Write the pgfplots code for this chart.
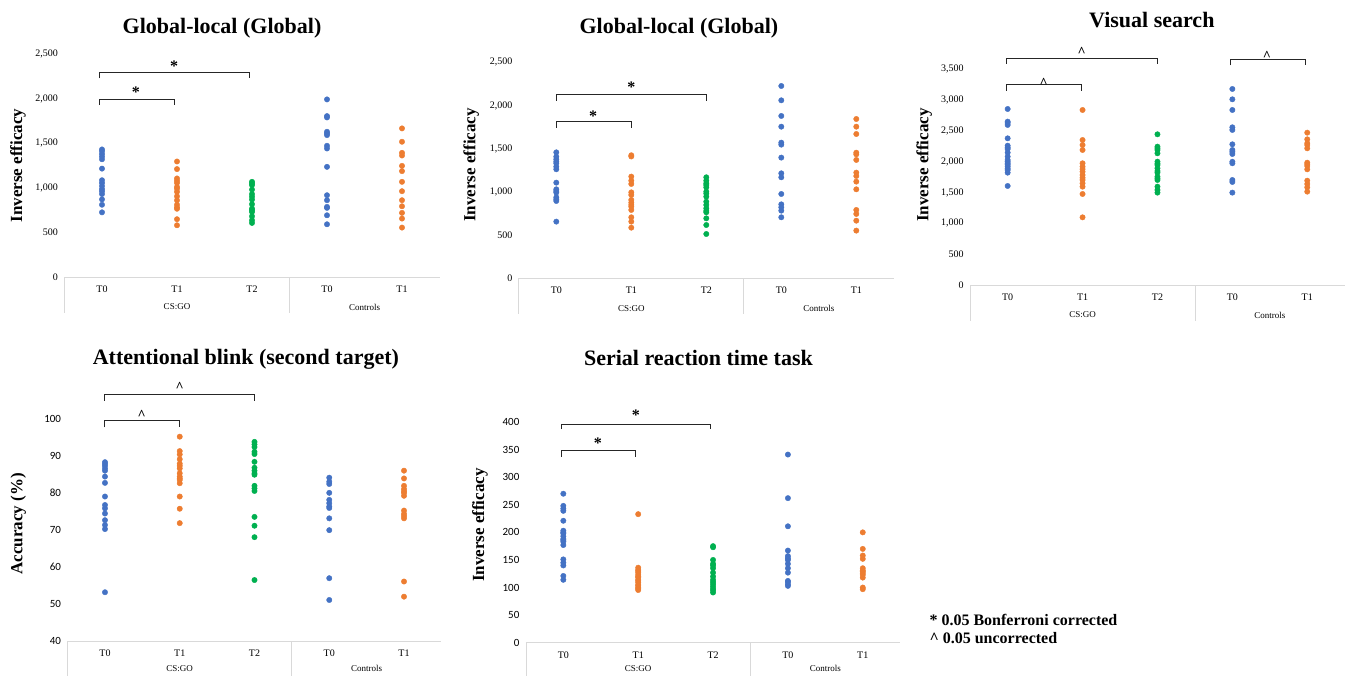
\documentclass[border=0pt]{standalone}
\usepackage{fontspec}
\setmainfont{Liberation Serif}
\newfontfamily\carlito{Carlito}
\usepackage{pgfplots}
\pgfplotsset{compat=1.18}

\definecolor{xblue}{HTML}{4472C4}
\definecolor{xorange}{HTML}{ED7D31}
\definecolor{xgreen}{HTML}{00B050}
\definecolor{axgray}{HTML}{D9D9D9}

\pgfplotsset{
  every axis title shift=0pt,
  panel/.style={
    scale only axis, clip=false,
    xmin=-0.5, xmax=4.5,
    xtick={0,1,2,3,4}, xticklabels={T0,T1,T2,T0,T1},
    axis x line*=bottom, axis y line*=left,
    x axis line style={draw=axgray, line width=0.8pt},
    y axis line style={draw=none},
    major tick length=0pt,
    tick label style={font=\fontsize{10}{12}\selectfont},
    xticklabel style={yshift=-5.5pt},
    yticklabel style={xshift=-3pt},
    /pgf/number format/assume math mode=true,
    /pgf/number format/1000 sep={,},
    title style={font=\bfseries\fontsize{22}{26}\selectfont, anchor=center, yshift=-1pt},
    ylabel style={font=\bfseries\fontsize{17}{20}\selectfont, anchor=center},
  },
  dots/.style={only marks, mark=*, mark size=2.7pt, color=#1, mark options={draw=#1, fill=#1}},
  brk/.style={black!85, line width=1pt, no marks, mark=none},
}
\tikzset{
  sig/.style={font=\bfseries\fontsize{16}{18}\selectfont, anchor=base, yshift=-8pt, inner sep=0pt},
  car/.style={font=\bfseries\fontsize{14}{16}\selectfont, anchor=base, yshift=-7.5pt, inner sep=0pt},
}

% group boxes under the category axis; #1 = drop of the group labels
\newcommand{\groups}[1]{%
  \draw[axgray, line width=0.8pt] (rel axis cs:0,0) -- ++(0pt,-36pt);
  \draw[axgray, line width=0.8pt] (rel axis cs:0.6,0) -- ++(0pt,-36pt);
  \node[font=\fontsize{9}{11}\selectfont] at ([yshift=-#1]rel axis cs:0.3,0) {CS:GO};
  \node[font=\fontsize{9}{11}\selectfont] at ([yshift=-#1]rel axis cs:0.8,0) {Controls};
}

\begin{document}
\begin{tikzpicture}
\useasboundingbox (0,0) rectangle (1346pt,-675pt);

% ---- Global-local (Global), left
\begin{axis}[panel, at={(64.5pt,-277pt)}, anchor=south west,
  width=375pt, height=223pt, ymin=0, ymax=2500, ytick={0,500,...,2500},
  title={Global-local (Global)}, title style={at={(axis description cs:0.42,1.121)}},
  ylabel={Inverse efficacy}, ylabel style={at={(axis description cs:-0.124,0.5)}}]
\addplot[dots=xblue] coordinates {(0,1430) (0,1410) (0,1380) (0,1350) (0,1320) (0,1215) (0,1085) (0,1055) (0,1020) (0,985) (0,960) (0,930) (0,870) (0,810) (0,725)};
\addplot[dots=xorange] coordinates {(1,1295) (1,1210) (1,1105) (1,1080) (1,1055) (1,1010) (1,990) (1,955) (1,905) (1,860) (1,810) (1,780) (1,765) (1,648) (1,580)};
\addplot[dots=xgreen] coordinates {(2,1067) (2,1050) (2,1030) (2,980) (2,930) (2,900) (2,868) (2,816) (2,767) (2,750) (2,730) (2,681) (2,636) (2,606)};
\addplot[dots=xblue] coordinates {(3,1991) (3,1804) (3,1789) (3,1628) (3,1610) (3,1591) (3,1471) (3,1441) (3,1235) (3,917) (3,861) (3,786) (3,775) (3,692) (3,591)};
\addplot[dots=xorange] coordinates {(4,1666) (4,1516) (4,1392) (4,1362) (4,1246) (4,1187) (4,1067) (4,962) (4,861) (4,793) (4,719) (4,655) (4,554)};
\addplot[brk] coordinates {(-0.04,1928) (-0.04,1995) (0.96,1995) (0.96,1928)};
\addplot[brk] coordinates {(-0.04,2227) (-0.04,2298) (1.96,2298) (1.96,2227)};
\node[sig] at (axis cs:0.45,2100) {*};
\node[sig] at (axis cs:0.96,2395) {*};
\groups{30pt}
\end{axis}

% ---- Global-local (Global), middle
\begin{axis}[panel, at={(518.8pt,-278.3pt)}, anchor=south west,
  width=375pt, height=216pt, ymin=0, ymax=2500, ytick={0,500,...,2500},
  title={Global-local (Global)}, title style={at={(axis description cs:0.427,1.163)}},
  ylabel={Inverse efficacy}, ylabel style={at={(axis description cs:-0.127,0.525)}}]
\addplot[dots=xblue] coordinates {(0,1458) (0,1408) (0,1377) (0,1350) (0,1331) (0,1292) (0,1262) (0,1107) (0,1030) (0,1010) (0,992) (0,937) (0,915) (0,895) (0,656)};
\addplot[dots=xorange] coordinates {(1,1424) (1,1410) (1,1177) (1,1130) (1,1092) (1,995) (1,965) (1,907) (1,876) (1,850) (1,829) (1,791) (1,706) (1,656) (1,586)};
\addplot[dots=xgreen] coordinates {(2,1169) (2,1130) (2,1100) (2,1080) (2,1053) (2,1003) (2,980) (2,945) (2,887) (2,849) (2,810) (2,780) (2,764) (2,694) (2,617) (2,513)};
\addplot[dots=xblue] coordinates {(3,2226) (3,2060) (3,1879) (3,1755) (3,1570) (3,1547) (3,1397) (3,1215) (3,1169) (3,976) (3,856) (3,822) (3,783) (3,706)};
\addplot[dots=xorange] coordinates {(4,1844) (4,1755) (4,1670) (4,1454) (4,1435) (4,1370) (4,1223) (4,1184) (4,1119) (4,1030) (4,791) (4,745) (4,667) (4,552)};
\addplot[brk] coordinates {(0,1744) (0,1813) (1,1813) (1,1744)};
\addplot[brk] coordinates {(0,2056) (0,2122) (2,2122) (2,2056)};
\node[sig] at (axis cs:0.49,1910) {*};
\node[sig] at (axis cs:1,2238) {*};
\groups{30pt}
\end{axis}

% ---- Visual search
\begin{axis}[panel, at={(970.2pt,-285pt)}, anchor=south west,
  width=374.5pt, height=215.7pt, ymin=0, ymax=3500, ytick={0,500,...,3500},
  title={Visual search}, title style={at={(axis description cs:0.485,1.233)}},
  ylabel={Inverse efficacy}, ylabel style={at={(axis description cs:-0.123,0.556)}}]
\addplot[dots=xblue] coordinates {(0,2856) (0,2651) (0,2630) (0,2597) (0,2380) (0,2261) (0,2230) (0,2207) (0,2148) (0,2083) (0,2029) (0,2000) (0,1975) (0,1950) (0,1921) (0,1890) (0,1866) (0,1823) (0,1607)};
\addplot[dots=xorange] coordinates {(1,2840) (1,2353) (1,2272) (1,2191) (1,1975) (1,1921) (1,1880) (1,1839) (1,1785) (1,1740) (1,1704) (1,1650) (1,1596) (1,1477) (1,1098)};
\addplot[dots=xgreen] coordinates {(2,2445) (2,2245) (2,2220) (2,2191) (2,2137) (2,2002) (2,1970) (2,1948) (2,1894) (2,1850) (2,1823) (2,1758) (2,1730) (2,1704) (2,1596) (2,1542) (2,1499)};
\addplot[dots=xblue] coordinates {(3,3181) (3,3013) (3,2840) (3,2559) (3,2516) (3,2283) (3,2191) (3,2160) (3,2126) (3,2000) (3,1975) (3,1704) (3,1672) (3,1499)};
\addplot[dots=xorange] coordinates {(4,2472) (4,2364) (4,2300) (4,2272) (4,2218) (4,1985) (4,1960) (4,1931) (4,1877) (4,1693) (4,1639) (4,1585) (4,1515)};
\addplot[brk] coordinates {(-0.01,3154) (-0.01,3246) (0.99,3246) (0.99,3154)};
\addplot[brk] coordinates {(-0.01,3587) (-0.01,3679) (2,3679) (2,3587)};
\addplot[brk] coordinates {(2.97,3565) (2.97,3663) (3.97,3663) (3.97,3565)};
\node[car] at (axis cs:0.48,3330) {\^{}};
\node[car] at (axis cs:0.99,3830) {\^{}};
\node[car] at (axis cs:3.46,3771) {\^{}};
\groups{30pt}
\end{axis}

% ---- Attentional blink (second target)
\begin{axis}[panel, at={(67.6pt,-641pt)}, anchor=south west,
  width=373.8pt, height=221.7pt, ymin=40, ymax=100, ytick={40,50,...,100},
  yticklabel style={font=\carlito\fontsize{11}{13}\selectfont},
  title={Attentional blink (second target)}, title style={at={(axis description cs:0.477,1.275)}},
  ylabel={Accuracy (\%)}, ylabel style={at={(axis description cs:-0.132,0.528)}}]
\addplot[dots=xblue] coordinates {(0,88.4) (0,87.9) (0,87.4) (0,86.7) (0,86.1) (0,84.5) (0,82.8) (0,79.1) (0,76.8) (0,75.9) (0,74.5) (0,72.7) (0,71.4) (0,70.3) (0,53.2)};
\addplot[dots=xorange] coordinates {(1,95.3) (1,91.4) (1,90.5) (1,89.2) (1,88.0) (1,87.4) (1,86.7) (1,85.4) (1,84.5) (1,84.0) (1,83.6) (1,82.7) (1,79.1) (1,75.8) (1,71.9)};
\addplot[dots=xgreen] coordinates {(2,93.9) (2,93.2) (2,92.5) (2,91.2) (2,90.6) (2,88.5) (2,86.9) (2,86.1) (2,85.4) (2,85.0) (2,82.0) (2,81.3) (2,80.6) (2,73.6) (2,71.2) (2,68.1) (2,56.5)};
\addplot[dots=xblue] coordinates {(3,84.2) (3,83.1) (3,82.5) (3,80.1) (3,78.2) (3,77.3) (3,76.4) (3,76.0) (3,73.2) (3,70.0) (3,57.0) (3,51.1)};
\addplot[dots=xorange] coordinates {(4,86.1) (4,84.0) (4,82.0) (4,81.1) (4,80.5) (4,80.1) (4,79.3) (4,75.3) (4,74.4) (4,73.8) (4,73.2) (4,56.1) (4,52.0)};
\addplot[brk] coordinates {(0,97.8) (0,99.6) (1,99.6) (1,97.8)};
\addplot[brk] coordinates {(0,105.0) (0,106.7) (2,106.7) (2,105.0)};
\node[car] at (axis cs:0.49,102.1) {\^{}};
\node[car] at (axis cs:1,109.5) {\^{}};
\groups{27.5pt}
\end{axis}

% ---- Serial reaction time task
\begin{axis}[panel, at={(525.9pt,-642.7pt)}, anchor=south west,
  width=374.3pt, height=220.7pt, ymin=0, ymax=400, ytick={0,50,...,400},
  yticklabel style={font=\carlito\fontsize{11}{13}\selectfont},
  title={Serial reaction time task}, title style={at={(axis description cs:0.461,1.293)}},
  ylabel={Inverse efficacy}, ylabel style={at={(axis description cs:-0.123,0.533)}}]
\addplot[dots=xblue] coordinates {(0,270) (0,248) (0,243) (0,239) (0,221) (0,203) (0,200) (0,198) (0,193) (0,188) (0,186) (0,183) (0,177) (0,151) (0,145) (0,140) (0,121) (0,114)};
\addplot[dots=xorange] coordinates {(1,233) (1,136) (1,132) (1,130) (1,127) (1,123) (1,120) (1,118) (1,114) (1,112) (1,109) (1,105) (1,103) (1,100) (1,98) (1,95.5)};
\addplot[dots=xgreen] coordinates {(2,175) (2,173) (2,150) (2,143) (2,140) (2,135) (2,127) (2,120) (2,114) (2,110) (2,106) (2,102) (2,98) (2,95) (2,91)};
\addplot[dots=xblue] coordinates {(3,341) (3,262) (3,211) (3,167) (3,157) (3,153) (3,150) (3,143) (3,135) (3,127) (3,112) (3,110) (3,106) (3,103)};
\addplot[dots=xorange] coordinates {(4,200) (4,170) (4,158) (4,152) (4,135) (4,131) (4,129) (4,126) (4,123) (4,118) (4,100) (4,97)};
\addplot[brk] coordinates {(-0.03,337) (-0.03,349) (0.96,349) (0.96,337)};
\addplot[brk] coordinates {(-0.03,387) (-0.03,396) (1.96,396) (1.96,387)};
\node[sig] at (axis cs:0.46,366) {*};
\node[sig] at (axis cs:0.97,417) {*};
\groups{25.5pt}
\end{axis}

% significance key
\node[anchor=west, font=\bfseries\fontsize{16}{18}\selectfont] at (926pt,-620pt) {* 0.05 Bonferroni corrected};
\node[anchor=west, font=\bfseries\fontsize{16}{18}\selectfont] at (926pt,-638pt) {\^{} 0.05 uncorrected};
\end{tikzpicture}
\end{document}
